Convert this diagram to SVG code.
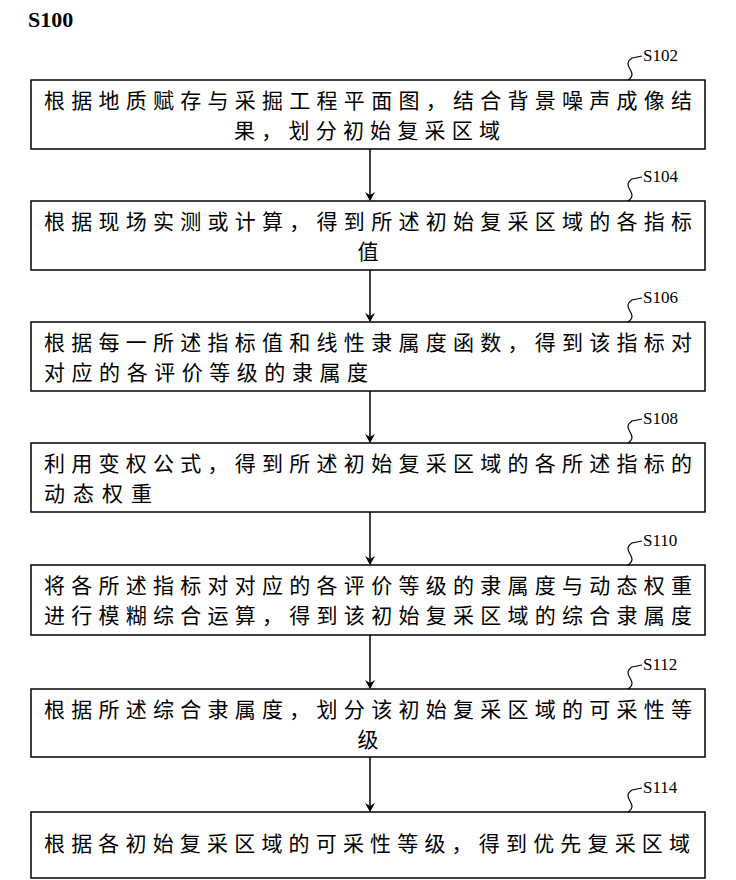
<svg xmlns="http://www.w3.org/2000/svg" width="736" height="880" viewBox="0 0 736 880">
<style>
.box{fill:#fff;stroke:#000;stroke-width:1.5}
.t{font-family:"Noto Sans CJK SC","Liberation Serif",serif;font-size:21px;fill:#000}
.lab{font-family:"Liberation Serif",serif;font-size:17px;fill:#000}
.sq{fill:none;stroke:#000;stroke-width:1.2}
.ar{stroke:#000;stroke-width:1.5;marker-end:url(#ah)}
</style>
<defs><marker id="ah" markerWidth="10" markerHeight="10" refX="8" refY="5" orient="auto" markerUnits="userSpaceOnUse"><path d="M0,0 L9,5 L0,10 L3,5 Z" fill="#000"/></marker></defs>
<rect width="736" height="880" fill="#fff"/>
<text x="28" y="27" style="font-family:'Liberation Serif',serif;font-size:22px;font-weight:bold">S100</text>
<g id="connectors">
<line class="ar" x1="370" y1="149" x2="370" y2="200"/>
<line class="ar" x1="370" y1="270" x2="370" y2="321"/>
<line class="ar" x1="370" y1="391" x2="370" y2="442"/>
<line class="ar" x1="370" y1="512" x2="370" y2="564"/>
<line class="ar" x1="370" y1="635" x2="370" y2="688"/>
<line class="ar" x1="370" y1="757" x2="370" y2="811"/>
</g>
<g id="S102"><rect class="box" x="31" y="80" width="674" height="69"/>
<path class="sq" d="M628,80 C640,72 620,66 632,58 L642,56"/><text class="lab" x="643" y="61">S102</text>
<text class="t" x="44" y="108" textLength="648" lengthAdjust="spacing">根据地质赋存与采掘工程平面图，结合背景噪声成像结</text>
<text class="t" x="234" y="138" textLength="266" lengthAdjust="spacing">果，划分初始复采区域</text></g>
<g id="S104"><rect class="box" x="31" y="201" width="674" height="69"/>
<path class="sq" d="M628,201 C640,193 620,187 632,179 L642,177"/><text class="lab" x="643" y="182">S104</text>
<text class="t" x="44" y="229" textLength="648" lengthAdjust="spacing">根据现场实测或计算，得到所述初始复采区域的各指标</text>
<text class="t" x="368" y="259" text-anchor="middle">值</text></g>
<g id="S106"><rect class="box" x="31" y="322" width="674" height="69"/>
<path class="sq" d="M628,322 C640,314 620,308 632,300 L642,298"/><text class="lab" x="643" y="303">S106</text>
<text class="t" x="44" y="350" textLength="648" lengthAdjust="spacing">根据每一所述指标值和线性隶属度函数，得到该指标对</text>
<text class="t" x="44" y="380" textLength="324" lengthAdjust="spacing">对应的各评价等级的隶属度</text></g>
<g id="S108"><rect class="box" x="31" y="443" width="674" height="69"/>
<path class="sq" d="M628,443 C640,435 620,429 632,421 L642,419"/><text class="lab" x="643" y="424">S108</text>
<text class="t" x="44" y="471" textLength="648" lengthAdjust="spacing">利用变权公式，得到所述初始复采区域的各所述指标的</text>
<text class="t" x="44" y="501" textLength="108" lengthAdjust="spacing">动态权重</text></g>
<g id="S110"><rect class="box" x="31" y="565" width="674" height="70"/>
<path class="sq" d="M628,565 C640,557 620,551 632,543 L642,541"/><text class="lab" x="643" y="546">S110</text>
<text class="t" x="44" y="593" textLength="648" lengthAdjust="spacing">将各所述指标对对应的各评价等级的隶属度与动态权重</text>
<text class="t" x="44" y="623" textLength="648" lengthAdjust="spacing">进行模糊综合运算，得到该初始复采区域的综合隶属度</text></g>
<g id="S112"><rect class="box" x="31" y="689" width="674" height="68"/>
<path class="sq" d="M628,689 C640,681 620,675 632,667 L642,665"/><text class="lab" x="643" y="670">S112</text>
<text class="t" x="44" y="717" textLength="648" lengthAdjust="spacing">根据所述综合隶属度，划分该初始复采区域的可采性等</text>
<text class="t" x="368" y="747" text-anchor="middle">级</text></g>
<g id="S114"><rect class="box" x="31" y="812" width="674" height="66"/>
<path class="sq" d="M628,812 C640,804 620,798 632,790 L642,788"/><text class="lab" x="643" y="793">S114</text>
<text class="t" x="44" y="851" textLength="646" lengthAdjust="spacing">根据各初始复采区域的可采性等级，得到优先复采区域</text></g>
</svg>
